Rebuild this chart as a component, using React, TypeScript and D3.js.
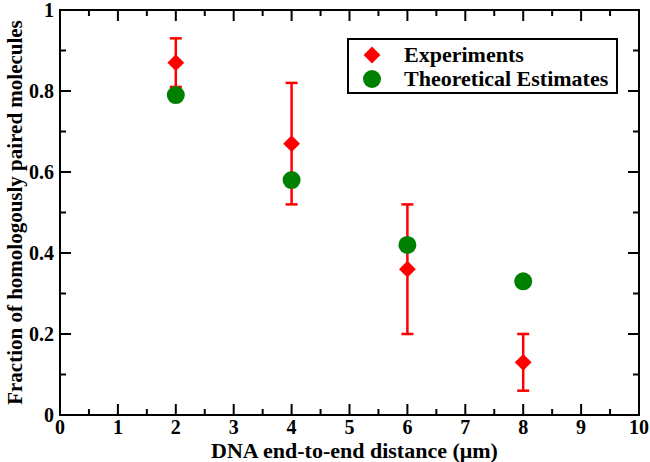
import React from "react";
import * as d3 from "d3";

const distances = [2, 4, 6, 8];
const expValues = [0.87, 0.67, 0.36, 0.13];
const expLower = [0.81, 0.52, 0.2, 0.06];
const expUpper = [0.93, 0.82, 0.52, 0.2];
const theoryValues = [0.79, 0.58, 0.42, 0.33];
const xTicks = [0, 1, 2, 3, 4, 5, 6, 7, 8, 9, 10];
const yTicks = [0, 0.2, 0.4, 0.6, 0.8, 1];
const xMinor = [0.5, 1.5, 2.5, 3.5, 4.5, 5.5, 6.5, 7.5, 8.5, 9.5];
const yMinor = [0.1, 0.3, 0.5, 0.7, 0.9];
const legendLabels = ["Experiments", "Theoretical Estimates"];

const W = 650, H = 462;
const M = { left: 60, right: 11, top: 10, bottom: 47 };
const FONT = "'Liberation Serif', 'Times New Roman', serif";

export default function App() {
  const x = d3.scaleLinear().domain([0, 10]).range([M.left, W - M.right]);
  const y = d3.scaleLinear().domain([0, 1]).range([H - M.bottom, M.top]);
  const x0 = x(0), x1 = x(10), y0 = y(0), y1 = y(1);
  const fmtY = (v: number) => (v === 0 || v === 1 ? String(v) : v.toFixed(1));
  const red = "#ff0000", green = "#008000";
  const majorLen = 11, minorLen = 6;
  const diamond = d3.symbol().type(d3.symbolDiamond2).size(180)();
  return (
    <svg width={W} height={H} style={{ position: "absolute", left: 0, top: 0, background: "#fff" }}>
      <rect x={0} y={0} width={W} height={H} fill="#fff" />
      {xTicks.map((t) => (
        <g key={"xt" + t}>
          <line x1={x(t)} x2={x(t)} y1={y0} y2={y0 - majorLen} stroke="#000" strokeWidth={2} />
          <line x1={x(t)} x2={x(t)} y1={y1} y2={y1 + majorLen} stroke="#000" strokeWidth={2} />
          <text x={x(t)} y={y0 + 19} textAnchor="middle" fontFamily={FONT} fontWeight="bold" fontSize={20}>{t}</text>
        </g>
      ))}
      {xMinor.map((t) => (
        <g key={"xm" + t}>
          <line x1={x(t)} x2={x(t)} y1={y0} y2={y0 - minorLen} stroke="#000" strokeWidth={2} />
          <line x1={x(t)} x2={x(t)} y1={y1} y2={y1 + minorLen} stroke="#000" strokeWidth={2} />
        </g>
      ))}
      {yTicks.map((t) => (
        <g key={"yt" + t}>
          <line x1={x0} x2={x0 + majorLen} y1={y(t)} y2={y(t)} stroke="#000" strokeWidth={2} />
          <line x1={x1} x2={x1 - majorLen} y1={y(t)} y2={y(t)} stroke="#000" strokeWidth={2} />
          <text x={x0 - 6} y={y(t) + 7} textAnchor="end" fontFamily={FONT} fontWeight="bold" fontSize={20}>{fmtY(t)}</text>
        </g>
      ))}
      {yMinor.map((t) => (
        <g key={"ym" + t}>
          <line x1={x0} x2={x0 + minorLen} y1={y(t)} y2={y(t)} stroke="#000" strokeWidth={2} />
          <line x1={x1} x2={x1 - minorLen} y1={y(t)} y2={y(t)} stroke="#000" strokeWidth={2} />
        </g>
      ))}
      <rect x={x0} y={y1} width={x1 - x0} height={y0 - y1} fill="none" stroke="#000" strokeWidth={2} />
      {distances.map((d, i) => (
        <g key={"eb" + d} stroke={red} strokeWidth={2.5}>
          <line x1={x(d)} x2={x(d)} y1={y(expLower[i])} y2={y(expUpper[i])} />
          <line x1={x(d) - 6} x2={x(d) + 6} y1={y(expLower[i])} y2={y(expLower[i])} />
          <line x1={x(d) - 6} x2={x(d) + 6} y1={y(expUpper[i])} y2={y(expUpper[i])} />
        </g>
      ))}
      {distances.map((d, i) => (
        <path key={"ex" + d} d={diamond as string} transform={`translate(${x(d)},${y(expValues[i])})`} fill={red} />
      ))}
      {distances.map((d, i) => (
        <circle key={"th" + d} cx={x(d)} cy={y(theoryValues[i])} r={9} fill={green} />
      ))}
      <rect x={348} y={39} width={269} height={54} fill="#fff" stroke="#000" strokeWidth={2} />
      <path d={diamond as string} transform="translate(372,55)" fill={red} />
      <circle cx={372} cy={79} r={9} fill={green} />
      <text x={404} y={62} fontFamily={FONT} fontWeight="bold" fontSize={22}>{legendLabels[0]}</text>
      <text x={404} y={86} fontFamily={FONT} fontWeight="bold" fontSize={22}>{legendLabels[1]}</text>
      <text x={(x0 + x1) / 2 + 5} y={458} textAnchor="middle" fontFamily={FONT} fontWeight="bold" fontSize={22}>DNA end-to-end distance (μm)</text>
      <text transform={`translate(22,${(y0 + y1) / 2}) rotate(-90)`} textAnchor="middle" fontFamily={FONT} fontWeight="bold" fontSize={21}>Fraction of homologously paired molecules</text>
    </svg>
  );
}
